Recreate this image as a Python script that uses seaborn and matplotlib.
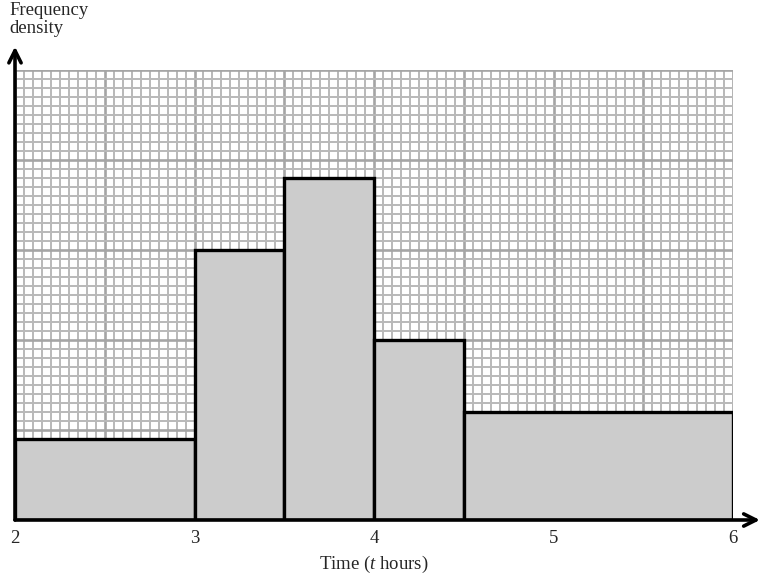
import numpy as np
import matplotlib
matplotlib.use("Agg")
import matplotlib.pyplot as plt
import seaborn as sns
from matplotlib.ticker import MultipleLocator

# ── Data ────────────────────────────────────────────────
bin_edges = [2, 3, 3.5, 4, 4.5, 6]
class_mids = [2.5, 3.25, 3.75, 4.25, 5.25]
frequencies = [9, 15, 19, 10, 18]          # frequency density = freq / width
x_tick_values = [2, 3, 4, 5, 6]

# ── Figure ──────────────────────────────────────────────
sns.set_style("white")
plt.rcParams["font.family"] = ["Liberation Serif", "DejaVu Serif"]
plt.rcParams["mathtext.fontset"] = "custom"
plt.rcParams["mathtext.rm"] = "Liberation Serif"
plt.rcParams["mathtext.it"] = "Liberation Serif:italic"

W, H = 766, 582
fig = plt.figure(figsize=(W / 100, H / 100), dpi=100)
ax = fig.add_axes([15 / W, 62 / H, 718 / W, 450 / H])

sns.histplot(x=class_mids, weights=frequencies, bins=bin_edges, stat="frequency",
             color="#cccccc", edgecolor="black", linewidth=2.4, alpha=1,
             ax=ax, zorder=3)

ax.set_xlim(2, 6)
ax.set_ylim(0, 50)

# graph-paper grid
ax.xaxis.set_major_locator(MultipleLocator(0.5))
ax.xaxis.set_minor_locator(MultipleLocator(0.05))
ax.yaxis.set_major_locator(MultipleLocator(10))
ax.yaxis.set_minor_locator(MultipleLocator(1))
ax.grid(which="minor", color="#b9b9b9", linewidth=1.4)
ax.grid(which="major", color="#a5a5a5", linewidth=1.9)
ax.set_axisbelow(True)

major = np.arange(2, 6.01, 0.5)
ax.set_xticks(major)
ax.set_xticklabels([f"{v:g}" if v in x_tick_values else "" for v in major], fontsize=13.5)
ax.tick_params(which="both", length=0, pad=7)
ax.tick_params(axis="y", labelleft=False)

for s in ax.spines.values():
    s.set_visible(False)

# axes with arrows
ax.annotate("", xy=(6.15, 0), xytext=(2, 0), xycoords="data",
            arrowprops=dict(arrowstyle="->", lw=2.6, color="black",
                            mutation_scale=22, shrinkA=0, shrinkB=0),
            annotation_clip=False, zorder=5)
ax.annotate("", xy=(2, 52.6), xytext=(2, 0), xycoords="data",
            arrowprops=dict(arrowstyle="->", lw=2.6, color="black",
                            mutation_scale=22, shrinkA=0, shrinkB=0),
            annotation_clip=False, zorder=5)

ax.set_xlabel("Time ($\\it{t}$ hours)", fontsize=13.5, labelpad=5)
ax.set_ylabel("")
fig.text(9 / W, 1 - 2 / H, "Frequency\ndensity", fontsize=13.5, ha="left", va="top",
         linespacing=1.05)

fig.savefig("out.png", dpi=100)
